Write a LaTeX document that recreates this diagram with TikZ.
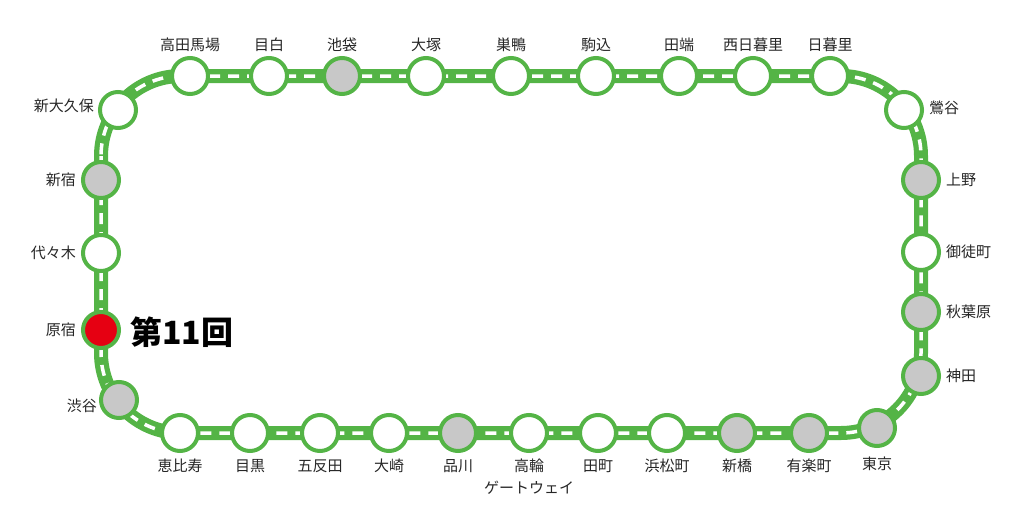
\documentclass[tikz,border=0pt]{standalone}
\usepackage{fontspec}
\newfontfamily\jp{Noto Sans CJK JP}
\definecolor{lg}{RGB}{84,180,70}
\definecolor{gs}{RGB}{200,200,200}
\definecolor{rs}{RGB}{230,0,18}
\begin{document}
\begin{tikzpicture}[x=1pt,y=-1pt,font=\jp\fontsize{15}{17}\selectfont,
  st/.style={circle,draw=lg,line width=4pt,fill=white,minimum size=36pt,inner sep=0pt},
  gst/.style={st,fill=gs}, rst/.style={st,fill=rs},
  lb/.style={inner sep=1pt,text=black!85}]
\useasboundingbox (0,0) rectangle (1024,511);
\draw[lg,line width=14pt,rounded corners=80pt] (101,76) rectangle (921,433);
\draw[white,line width=3.5pt,dash pattern=on 11pt off 8pt,rounded corners=80pt] (101,76) rectangle (921,433);
% top
\foreach \n/\x/\s/\t in {a/190/st/高田馬場,b/269/st/目白,c/342/gst/池袋,d/426/st/大塚,e/511/st/巣鴨,f/596/st/駒込,g/679/st/田端,h/753/st/西日暮里,i/830/st/日暮里}{
  \node[\s] (\n) at (\x,76) {};
  \node[lb] (\n l) at (\x,45) {\t};}
\node[st] (j) at (904,110) {}; \node[lb,anchor=west] (jl) at (928,108) {鶯谷};
\foreach \n/\y/\s/\t in {k/180/gst/上野,l/252/st/御徒町,m/312/gst/秋葉原,n/376/gst/神田}{
  \node[\s] (\n) at (921,\y) {};
  \node[lb,anchor=west] (\n l) at (945,\y) {\t};}
\node[gst] (o) at (877,428) {}; \node[lb] (ol) at (877,464) {東京};
\foreach \n/\x/\s/\t in {p/809/gst/有楽町,q/737/gst/新橋,r/667/st/浜松町,s/598/st/田町,t/529/st/高輪,u/458/gst/品川,v/389/st/大崎,w/320/st/五反田,x/250/st/目黒,y/180/st/恵比寿}{
  \node[\s] (\n) at (\x,433) {};
  \node[lb] (\n l) at (\x,466) {\t};}
\node[lb] (tl2) at (529,488) {ゲートウェイ};
\node[gst] (z) at (119,400) {}; \node[lb,anchor=east] (zl) at (98,406) {渋谷};
\node[rst] (h2) at (101,330) {}; \node[lb,anchor=east] (h2l) at (77,330) {原宿};
\node[st] (yy) at (101,253) {}; \node[lb,anchor=east] (yyl) at (77,253) {代々木};
\node[gst] (sj) at (101,180) {}; \node[lb,anchor=east] (sjl) at (77,180) {新宿};
\node[st] (so) at (118,110) {}; \node[lb,anchor=east] (sol) at (95,106) {新大久保};
\node[anchor=west,inner sep=0pt,font=\jp\bfseries\fontsize{32}{34}\selectfont] (ttl) at (130,332) {第11回};
\end{tikzpicture}
\end{document}
